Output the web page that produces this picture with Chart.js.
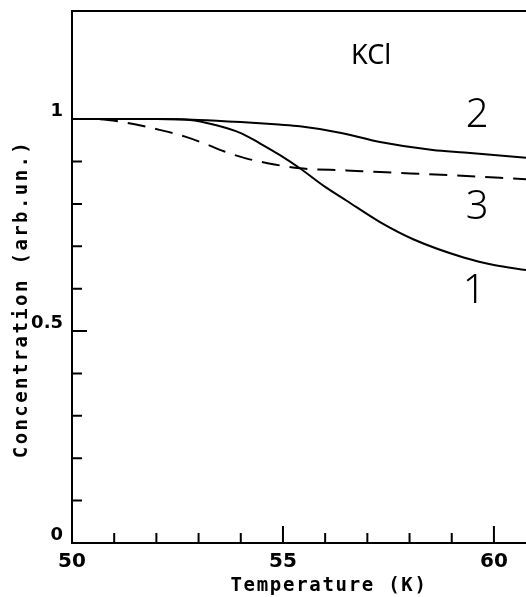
<!DOCTYPE html>
<html>
<head>
<meta charset="utf-8">
<script src="https://cdn.jsdelivr.net/npm/chart.js@4/dist/chart.umd.min.js"></script>
<style>
  html, body { margin: 0; padding: 0; background: #fff; }
  #wrap { width: 526px; height: 597px; }
</style>
</head>
<body>
<div id="wrap"><canvas id="kcl"></canvas></div>
<script>
// curve 1 (solid, lower)
var temp1 = [50, 51, 52, 52.8, 53.4, 54, 54.45, 54.93, 55.4, 56, 56.5, 57.3, 58.1, 59.3, 60, 60.76];
var conc1 = [1, 1, 1, 0.998, 0.986, 0.967, 0.943, 0.915, 0.884, 0.84, 0.808, 0.757, 0.716, 0.673, 0.656, 0.644];

// curve 2 (solid, upper)
var temp2 = [50, 52, 53, 54, 54.9, 55.4, 56.35, 57.3, 58.55, 59.3, 60.76];
var conc2 = [1, 1, 0.998, 0.993, 0.987, 0.983, 0.968, 0.946, 0.927, 0.921, 0.909];

// curve 3 (dashed)
var temp3 = [50, 50.5, 51.2, 52.1, 52.7, 53.2, 53.6, 54.1, 54.8, 55.4, 56.5, 57.3, 58.9, 60.76];
var conc3 = [1, 1, 0.993, 0.974, 0.958, 0.94, 0.924, 0.908, 0.893, 0.884, 0.879, 0.875, 0.868, 0.858];

var xLabels = [50, 55, 60];
var yLabels = [0, 0.5, 1];
var xMinor = [51, 52, 53, 54, 55, 56, 57, 58, 59, 60];
var yMinor = [0.1, 0.2, 0.3, 0.4, 0.5, 0.6, 0.7, 0.8, 0.9];

var curveNames = ['1', '2', '3'];
var namePos = [[59.53, 0.592], [59.6, 1.009], [59.6, 0.792]];

function pts(xs, ys) {
  return xs.map(function (x, i) { return { x: x, y: ys[i] }; });
}

var extras = {
  id: 'extras',
  afterDraw: function (chart) {
    var ctx = chart.ctx;
    var area = chart.chartArea;
    var xs = chart.scales.x, ys = chart.scales.y;
    ctx.save();
    ctx.strokeStyle = '#000';
    ctx.fillStyle = '#000';
    ctx.lineWidth = 2;
    // top frame line
    ctx.beginPath();
    ctx.moveTo(area.left - 1, area.top);
    ctx.lineTo(area.right, area.top);
    ctx.stroke();
    // inward ticks
    ctx.beginPath();
    xMinor.forEach(function (v) {
      var px = xs.getPixelForValue(v);
      var len = (v % 5 === 0) ? 17 : 10;
      ctx.moveTo(px, area.bottom);
      ctx.lineTo(px, area.bottom - len);
    });
    yMinor.forEach(function (v) {
      var py = ys.getPixelForValue(v);
      var len = (Math.abs(v - 0.5) < 1e-6) ? 15 : 10;
      ctx.moveTo(area.left, py);
      ctx.lineTo(area.left + len, py);
    });
    ctx.stroke();

    // curve numbers + compound name
    ctx.textAlign = 'center';
    ctx.textBaseline = 'middle';
    ctx.font = '300 40px "Noto Sans"';
    curveNames.forEach(function (n, i) {
      ctx.fillText(n, xs.getPixelForValue(namePos[i][0]), ys.getPixelForValue(namePos[i][1]));
    });
    ctx.font = '27px "Noto Sans"';
    ctx.fillText('KCl', xs.getPixelForValue(57.09), ys.getPixelForValue(1.149));

    // axis titles
    ctx.font = 'bold 19px "DejaVu Sans Mono"';
    ctx.letterSpacing = '1.7px';
    ctx.fillText('Temperature (K)', 329, 586);
    ctx.letterSpacing = '2.4px';
    ctx.translate(22, 299);
    ctx.rotate(-Math.PI / 2);
    ctx.fillText('Concentration (arb.un.)', 0, 0);
    ctx.restore();
  }
};

new Chart(document.getElementById('kcl'), {
  type: 'scatter',
  data: {
    datasets: [
      { label: '1', data: pts(temp1, conc1), borderColor: '#000', borderWidth: 2, showLine: true, pointRadius: 0, cubicInterpolationMode: 'monotone' },
      { label: '2', data: pts(temp2, conc2), borderColor: '#000', borderWidth: 2, showLine: true, pointRadius: 0, cubicInterpolationMode: 'monotone' },
      { label: '3', data: pts(temp3, conc3), borderColor: '#000', borderWidth: 2, borderDash: [18, 10], showLine: true, pointRadius: 0, cubicInterpolationMode: 'monotone' }
    ]
  },
  options: {
    animation: false,
    responsive: true,
    maintainAspectRatio: false,
    layout: { padding: { top: 11, right: 0, left: 0, bottom: 0 } },
    plugins: {
      legend: { display: false },
      tooltip: { enabled: false }
    },
    scales: {
      x: {
        type: 'linear',
        min: 50,
        max: 60.76,
        afterFit: function (s) { s.height = 54; s.paddingLeft = 0; s.paddingRight = 0; },
        afterBuildTicks: function (s) { s.ticks = xLabels.map(function (v) { return { value: v }; }); },
        grid: { display: false, drawTicks: false },
        border: { display: true, color: '#000', width: 2 },
        ticks: { color: '#000', padding: 7, maxRotation: 0, callback: function (v) { return String(v); }, font: { family: 'DejaVu Sans', weight: 'bold', size: 20 } }
      },
      y: {
        type: 'linear',
        min: 0,
        max: 1.255,
        afterFit: function (s) { s.width = 72; s.paddingTop = 0; s.paddingBottom = 0; },
        afterBuildTicks: function (s) { s.ticks = yLabels.map(function (v) { return { value: v }; }); },
        grid: { display: false, drawTicks: false },
        border: { display: true, color: '#000', width: 2 },
        ticks: { color: '#000', padding: 9, labelOffset: -8, callback: function (v) { return String(v); }, font: { family: 'DejaVu Sans', weight: 'bold', size: 18 } }
      }
    }
  },
  plugins: [extras]
});
</script>
</body>
</html>
